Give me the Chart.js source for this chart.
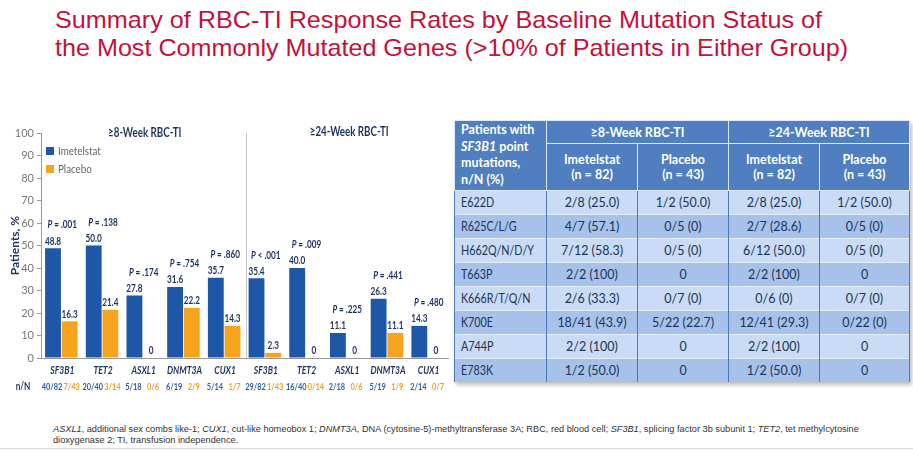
<!DOCTYPE html>
<html>
<head>
<meta charset="utf-8">
<script src="https://cdn.jsdelivr.net/npm/chart.js@4"></script>
<style>
  body { margin: 0; width: 913px; height: 453px; background: #fff; position: relative; overflow: hidden; font-family: Lato, "Liberation Sans", sans-serif; }
  .title { position: absolute; left: 55px; color: #c4113a; font-family: "Liberation Sans", Arial, sans-serif; font-size: 24px; white-space: nowrap; transform-origin: 0 0; line-height: 1; }
  #chartBox { position: absolute; left: 0; top: 110px; width: 450px; height: 300px; }
  #tbl { position: absolute; left: 454px; top: 120px; width: 455px; border-collapse: collapse; table-layout: fixed; box-shadow: 2px 3px 4px rgba(0,0,0,0.25); font-size: 12.5px; }
  #tbl td, #tbl th { padding: 0; text-align: center; }
  #tbl th { background: #4f7fc0; color: #fff; font-weight: bold; border: 1px solid #dfe8f5; line-height: 15px; font-size: 12.5px; }
  #tbl th.first { text-align: left; padding-left: 6px; vertical-align: top; padding-top: 1px; line-height: 16.5px; }
  #tbl td { color: #1b3358; height: 23px; border-left: 1px solid #4a78b8; border-right: 1px solid #4a78b8; border-top: 1px solid #e6eefa; white-space: nowrap; }
  #tbl td.first { text-align: left; padding-left: 6px; }
  #tbl td.first span { display: inline-block; transform: scaleX(0.86); transform-origin: 0 50%; }
  #tbl tr.light td { background: #c9dbf5; }
  #tbl tr.dark td { background: #a6c2ea; }
  .foot { position: absolute; left: 53px; font-family: "Liberation Sans", Arial, sans-serif; font-size: 9.2px; color: #333; white-space: nowrap; }
  .rule { position: absolute; left: 0; top: 448px; width: 913px; height: 1px; background: #d9d9d9; }
</style>
</head>
<body>
<div class="title" id="t1" style="top:8px">Summary of RBC-TI Response Rates by Baseline Mutation Status of</div>
<div class="title" id="t2" style="top:36px">the Most Commonly Mutated Genes (&gt;10% of Patients in Either Group)</div>

<div id="chartBox"><canvas id="chart"></canvas></div>

<table id="tbl">
  <colgroup><col style="width:92px"><col style="width:91px"><col style="width:91px"><col style="width:91px"><col style="width:90px"></colgroup>
  <thead>
    <tr style="height:23px">
      <th class="first" rowspan="2">Patients with<br><i>SF3B1</i> point<br>mutations,<br>n/N (%)</th>
      <th colspan="2">&ge;8-Week RBC-TI</th>
      <th colspan="2">&ge;24-Week RBC-TI</th>
    </tr>
    <tr style="height:47px">
      <th>Imetelstat<br>(n = 82)</th><th>Placebo<br>(n = 43)</th>
      <th>Imetelstat<br>(n = 82)</th><th>Placebo<br>(n = 43)</th>
    </tr>
  </thead>
  <tbody id="tbody"></tbody>
</table>

<div class="foot" style="top:424px"><i>ASXL1</i>, additional sex combs like-1; <i>CUX1</i>, cut-like homeobox 1; <i>DNMT3A</i>, DNA (cytosine-5)-methyltransferase 3A; RBC, red blood cell; <i>SF3B1</i>, splicing factor 3b subunit 1; <i>TET2</i>, tet methylcytosine</div>
<div class="foot" style="top:435px">dioxygenase 2; TI, transfusion independence.</div>
<div class="rule"></div>

<script>
// Bar chart data (≥8-week groups first, then ≥24-week)
const genes = ['SF3B1', 'TET2', 'ASXL1', 'DNMT3A', 'CUX1', 'SF3B1', 'TET2', 'ASXL1', 'DNMT3A', 'CUX1'];
const imetelstat = [48.8, 50.0, 27.8, 31.6, 35.7, 35.4, 40.0, 11.1, 26.3, 14.3];
const placebo = [16.3, 21.4, 0, 22.2, 14.3, 2.3, 0, 0, 11.1, 0];
const pValues = ['= .001', '= .138', '= .174', '= .754', '= .860', '< .001', '= .009', '= .225', '= .441', '= .480'];
const imetN = ['40/82', '20/40', '5/18', '6/19', '5/14', '29/82', '16/40', '2/18', '5/19', '2/14'];
const placeboN = ['7/43', '3/14', '0/6', '2/9', '1/7', '1/43', '0/14', '0/6', '1/9', '0/7'];
const sections = ['\u22658-Week RBC-TI', '\u226524-Week RBC-TI'];
const yTicks = [0, 10, 20, 30, 40, 50, 60, 70, 80, 90, 100];

// Table data
const mutations = ['E622D', 'R625C/L/G', 'H662Q/N/D/Y', 'T663P', 'K666R/T/Q/N', 'K700E', 'A744P', 'E783K'];
const imet8 = ['2/8 (25.0)', '4/7 (57.1)', '7/12 (58.3)', '2/2 (100)', '2/6 (33.3)', '18/41 (43.9)', '2/2 (100)', '1/2 (50.0)'];
const plac8 = ['1/2 (50.0)', '0/5 (0)', '0/5 (0)', '0', '0/7 (0)', '5/22 (22.7)', '0', '0'];
const imet24 = ['2/8 (25.0)', '2/7 (28.6)', '6/12 (50.0)', '2/2 (100)', '0/6 (0)', '12/41 (29.3)', '2/2 (100)', '1/2 (50.0)'];
const plac24 = ['1/2 (50.0)', '0/5 (0)', '0/5 (0)', '0', '0/7 (0)', '0/22 (0)', '0', '0'];

const BLUE = '#1f57a8';
const ORANGE = '#f6a31e';
const NAVY = '#1c335e';
const SX = 0.78; // horizontal squeeze for the condensed chart lettering

// fit title lines to the reference widths
const fitTitle = (id, w) => {
  const el = document.getElementById(id);
  el.style.transform = `scaleX(${w / el.offsetWidth})`;
};
fitTitle('t1', 767);
fitTitle('t2', 793);

// build table rows
const tbody = document.getElementById('tbody');
mutations.forEach((m, i) => {
  const tr = document.createElement('tr');
  tr.className = i % 2 === 0 ? 'light' : 'dark';
  [m, imet8[i], plac8[i], imet24[i], plac24[i]].forEach((v, j) => {
    const td = document.createElement('td');
    if (j === 0) {
      td.className = 'first';
      const sp = document.createElement('span');
      sp.textContent = v;
      td.appendChild(sp);
    } else {
      td.textContent = v;
    }
    tr.appendChild(td);
  });
  tbody.appendChild(tr);
});

// condensed text helper
function txt(ctx, s, x, y, font, color, align = 'center', sx = SX) {
  ctx.save();
  ctx.font = font;
  ctx.fillStyle = color;
  ctx.textAlign = align;
  ctx.textBaseline = 'middle';
  ctx.translate(x, y);
  ctx.scale(sx, 1);
  ctx.fillText(s, 0, 0);
  ctx.restore();
}

// labels, p-values, legend, category rows
const overlay = {
  id: 'overlay',
  afterDatasetsDraw(chart) {
    const { ctx, chartArea, scales: { x, y } } = chart;
    const m0 = chart.getDatasetMeta(0), m1 = chart.getDatasetMeta(1);
    ctx.save();

    // divider between the two sections
    const xd = (x.getPixelForValue(4) + x.getPixelForValue(5)) / 2 + 2;
    ctx.strokeStyle = '#c8c8c8';
    ctx.lineWidth = 1;
    ctx.beginPath();
    ctx.moveTo(xd, chartArea.top);
    ctx.lineTo(xd, chartArea.bottom);
    ctx.stroke();

    // section titles
    txt(ctx, sections[0], x.getPixelForValue(2) + 2, chartArea.top, 'bold 12.5px Lato', NAVY);
    txt(ctx, sections[1], x.getPixelForValue(7) + 3, chartArea.top - 1, 'bold 12.5px Lato', NAVY);

    // value labels
    genes.forEach((g, i) => {
      txt(ctx, imetelstat[i].toFixed(1), m0.data[i].x, y.getPixelForValue(imetelstat[i]) - 7, 'bold 10.5px Lato', NAVY);
      const pv = placebo[i] === 0 ? '0' : placebo[i].toFixed(1);
      txt(ctx, pv, m1.data[i].x, y.getPixelForValue(placebo[i]) - 7, 'bold 10.5px Lato', NAVY);
    });

    // p-values
    genes.forEach((g, i) => {
      const top = Math.max(imetelstat[i], placebo[i]);
      const cy = y.getPixelForValue(top + 10.3);
      ctx.font = 'italic bold 10.5px Lato';
      const wP = ctx.measureText('P ').width * SX;
      ctx.font = 'bold 10.5px Lato';
      const wR = ctx.measureText(pValues[i]).width * SX;
      const sx = x.getPixelForValue(i) + 1 - (wP + wR) / 2;
      txt(ctx, 'P ', sx, cy, 'italic bold 10.5px Lato', NAVY, 'left');
      txt(ctx, pValues[i], sx + wP, cy, 'bold 10.5px Lato', NAVY, 'left');
    });

    // gene names and n/N row
    const yGene = 260.7, yN = 277;
    genes.forEach((g, i) => {
      txt(ctx, g, x.getPixelForValue(i) + 1, yGene, 'italic bold 11px Lato', NAVY);
      txt(ctx, imetN[i], m0.data[i].x - 1, yN, 'bold 9.5px Lato', '#2c5ea8');
      txt(ctx, placeboN[i], m1.data[i].x + 2, yN, 'bold 9.5px Lato', '#eda020');
    });
    txt(ctx, 'n/N', 23, yN, 'bold 10.5px Lato', NAVY);

    // y-axis title
    ctx.save();
    ctx.translate(15, (chartArea.top + chartArea.bottom) / 2);
    ctx.rotate(-Math.PI / 2);
    txt(ctx, 'Patients, %', 0, 0, 'bold 12px Lato', NAVY, 'center', 1);
    ctx.restore();

    // legend
    chart.data.datasets.forEach((ds, k) => {
      const ly = 151 - 110 + k * 18;
      ctx.fillStyle = ds.backgroundColor;
      ctx.fillRect(46, ly - 4, 8, 8);
      txt(ctx, ds.label, 58, ly, '11.5px Lato', '#666', 'left', 0.85);
    });
    ctx.restore();
  }
};

new Chart(document.getElementById('chart'), {
  type: 'bar',
  data: {
    labels: genes,
    datasets: [
      { label: 'Imetelstat', data: imetelstat, backgroundColor: BLUE, categoryPercentage: 0.82, barPercentage: 0.95 },
      { label: 'Placebo', data: placebo, backgroundColor: ORANGE, categoryPercentage: 0.82, barPercentage: 0.95 }
    ]
  },
  options: {
    responsive: true,
    maintainAspectRatio: false,
    animation: false,
    layout: { padding: { top: 23, left: 0, right: 2, bottom: 0 } },
    plugins: { legend: { display: false }, tooltip: { enabled: false } },
    scales: {
      x: {
        ticks: { display: false },
        grid: { display: false },
        border: { color: '#999' },
        afterFit: (s) => { s.height = 52; }
      },
      y: {
        min: 0, max: 100,
        afterBuildTicks: (s) => { s.ticks = yTicks.map(v => ({ value: v })); },
        ticks: { color: '#777', font: { family: '"Liberation Sans Narrow", Lato', size: 11 }, padding: 3 },
        grid: { drawOnChartArea: false, tickLength: 4, color: '#999' },
        border: { color: '#999' },
        afterFit: (s) => { s.width = 41; }
      }
    }
  },
  plugins: [overlay]
});
</script>
</body>
</html>
